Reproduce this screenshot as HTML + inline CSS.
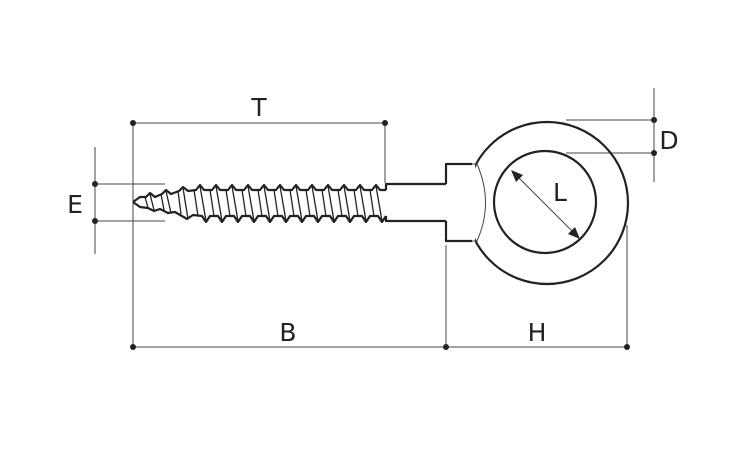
<!DOCTYPE html>
<html><head><meta charset="utf-8"><style>
html,body{margin:0;padding:0;background:#fff;}
svg{display:block}
text{font-family:"DejaVu Sans","Liberation Sans",sans-serif;font-size:25px;fill:#222;}
</style></head><body>
<svg width="750" height="450" viewBox="0 0 750 450" xmlns="http://www.w3.org/2000/svg">
<g stroke="#444" stroke-width="1" fill="none">
<line x1="133" y1="123" x2="385" y2="123"/>
<line x1="133" y1="123" x2="133" y2="347"/>
<line x1="385" y1="123" x2="385" y2="183"/>
<line x1="133" y1="347" x2="627" y2="347"/>
<line x1="446" y1="245" x2="446" y2="347"/>
<line x1="627" y1="225" x2="627" y2="347"/>
<line x1="95" y1="147" x2="95" y2="254"/>
<line x1="95" y1="184" x2="165" y2="184"/>
<line x1="95" y1="221" x2="165" y2="221"/>
<line x1="654" y1="88" x2="654" y2="182"/>
<line x1="566" y1="120" x2="654" y2="120"/>
<line x1="566" y1="153" x2="654" y2="153"/>
<line x1="513" y1="172" x2="578" y2="237"/>
</g>
<g fill="#222">
<circle cx="133" cy="123" r="3"/><circle cx="385" cy="123" r="3"/>
<circle cx="133" cy="347" r="3"/><circle cx="446" cy="347" r="3"/><circle cx="627" cy="347" r="3"/>
<circle cx="95" cy="184" r="3"/><circle cx="95" cy="221" r="3"/>
<circle cx="654" cy="120" r="3"/><circle cx="654" cy="153" r="3"/>
<polygon points="511,170 523,175 516,182"/>
<polygon points="580,239 568,234 575,227"/>
</g>
<g stroke="#222" stroke-width="2.2" fill="none" stroke-linejoin="round">
<circle cx="547" cy="203" r="81"/>
<circle cx="545" cy="202" r="51"/>
</g>
<rect x="447" y="163" width="28" height="79" fill="#fff"/>
<g stroke="#222" stroke-width="2.2" fill="none" stroke-linejoin="round">
<path d="M446,184 L446,164 L472,164 M472,241 L446,241 L446,221"/>
<path d="M446,184 L386,184 L386,190 M446,221 L386,221 L386,216"/>
<path d="M133,202 L140,197 L146,197 L150,193 L155,197 L162,194 L166,190 L171,194 L179,191 L183,187 L188,191 L196,190 L200,185 L204,190 L212,190 L216,185 L220,190 L228,190 L232,185 L236,190 L244,190 L248,185 L252,190 L260,190 L264,185 L268,190 L276,190 L280,185 L284,190 L292,190 L296,185 L300,190 L308,190 L312,185 L316,190 L324,190 L328,185 L332,190 L340,190 L344,185 L348,190 L356,190 L360,185 L364,190 L372,190 L376,185 L380,190 L386,190"/>
<path d="M133,202 L140,207 L148,208 L154,211 L160,209 L168,213 L175,212 L187,219 L193,215 L202,216 L206,222 L210,216 L218,216 L222,222 L226,216 L234,216 L238,222 L242,216 L250,216 L254,222 L258,216 L266,216 L270,222 L274,216 L282,216 L286,222 L290,216 L298,216 L302,222 L306,216 L314,216 L318,222 L322,216 L330,216 L334,222 L338,216 L346,216 L350,222 L354,216 L362,216 L366,222 L370,216 L378,216 L382,222 L386,216"/>
</g>
<g stroke="#222" stroke-width="1.3" fill="none">
<path d="M150,194 L154,210 M166,191 L171,213 M183,188 L188,219 M200,186 L206,221 M216,186 L222,221 M232,186 L238,221 M248,186 L254,221 M264,186 L270,221 M280,186 L286,221 M296,186 L302,221 M312,186 L318,221 M328,186 L334,221 M344,186 L350,221 M360,186 L366,221 M376,186 L382,221"/>
<path d="M145,197 L148,208 M161,194 L164,210 M178,191 L181,214 M194,190 L198,216 M210,190 L214,216 M226,190 L230,216 M242,190 L246,216 M258,190 L262,216 M274,190 L278,216 M290,190 L294,216 M306,190 L310,216 M322,190 L326,216 M338,190 L342,216 M354,190 L358,216 M370,190 L374,216"/>
</g>
<g stroke="#444" stroke-width="1" fill="none">
<path d="M472,164 L477,164 Q494,203 477,241 L472,241"/>
</g>
<text x="259" y="116" text-anchor="middle">T</text>
<text x="288" y="341" text-anchor="middle">B</text>
<text x="537" y="341" text-anchor="middle">H</text>
<text x="75" y="213" text-anchor="middle">E</text>
<text x="669" y="149" text-anchor="middle">D</text>
<text x="560" y="201" text-anchor="middle">L</text>
</svg>
</body></html>
